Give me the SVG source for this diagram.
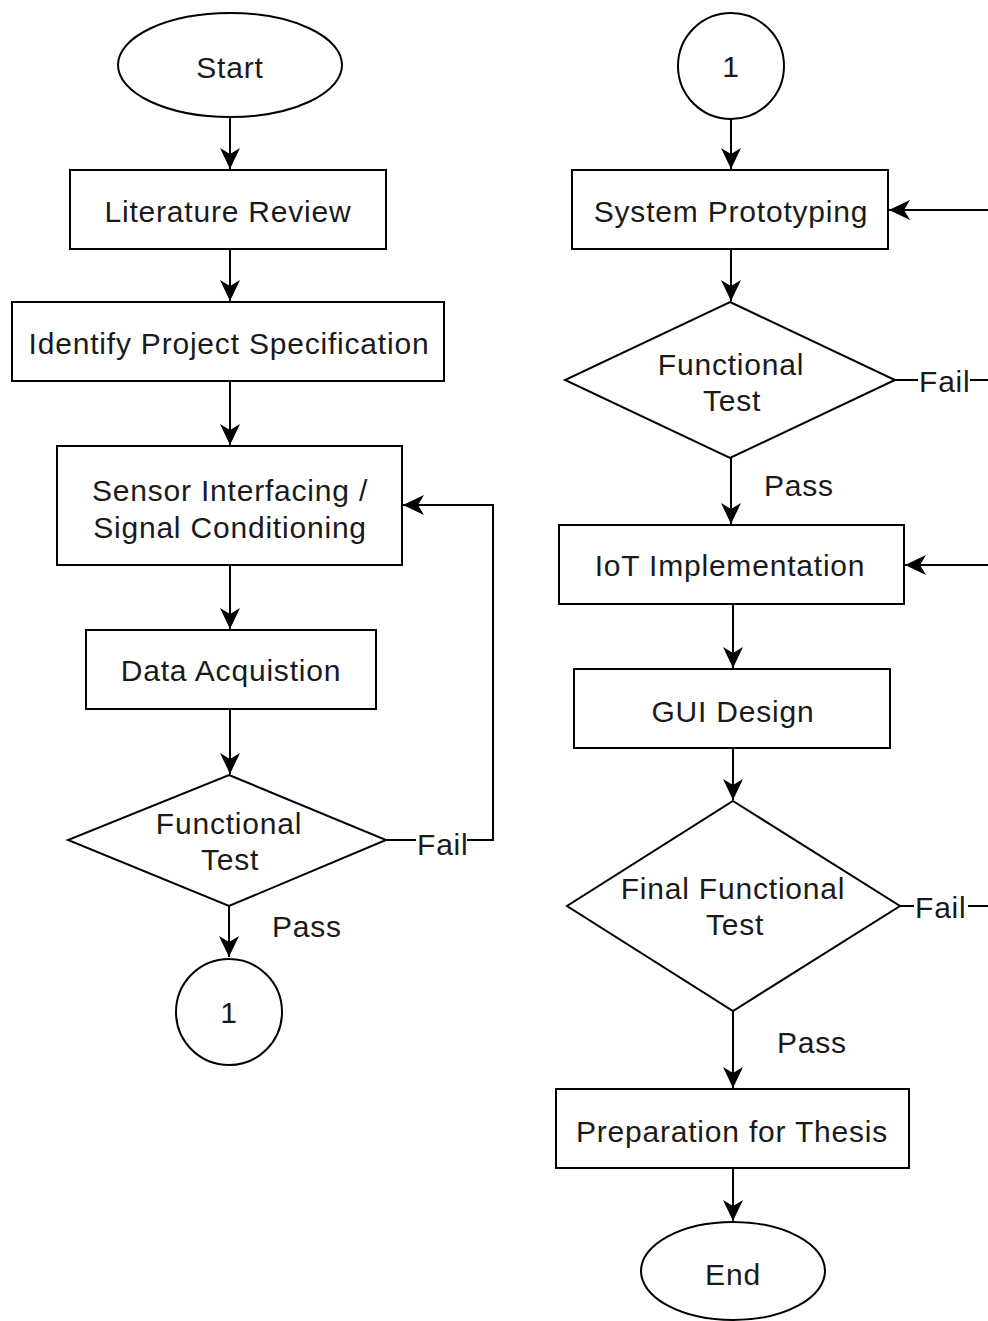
<svg xmlns="http://www.w3.org/2000/svg" width="988" height="1321" viewBox="0 0 988 1321">
<defs>
<marker id="arr" markerUnits="userSpaceOnUse" markerWidth="22" markerHeight="20" refX="21" refY="10" orient="auto" viewBox="0 0 22 20">
<path d="M0,0 L21,10 L0,20 L6,10 Z" fill="#000"/>
</marker>
<style>
.s{fill:#fff;stroke:#000;stroke-width:2}
.c{fill:none;stroke:#000;stroke-width:2}
.t{font-family:"Liberation Sans",Arial,sans-serif;font-size:30px;fill:#1a1a1a;text-anchor:middle;letter-spacing:0.8px}
.l{font-family:"Liberation Sans",Arial,sans-serif;font-size:30px;fill:#1a1a1a;letter-spacing:0.8px}
</style>
</defs>
<rect width="988" height="1321" fill="#fff"/>
<g id="connectors">
<line class="c" x1="230" y1="117" x2="230" y2="169" marker-end="url(#arr)"/>
<line class="c" x1="230" y1="249" x2="230" y2="301" marker-end="url(#arr)"/>
<line class="c" x1="230" y1="381" x2="230" y2="445" marker-end="url(#arr)"/>
<line class="c" x1="230" y1="565" x2="230" y2="629" marker-end="url(#arr)"/>
<line class="c" x1="230" y1="709" x2="230" y2="774" marker-end="url(#arr)"/>
<line class="c" x1="229" y1="906" x2="229" y2="957" marker-end="url(#arr)"/>
<line class="c" x1="386" y1="840" x2="416" y2="840"/>
<polyline class="c" points="467,840 493,840 493,505 403,505" marker-end="url(#arr)"/>
<text class="l" x="417" y="855">Fail</text>
<text class="l" x="272" y="937">Pass</text>

<line class="c" x1="731" y1="119" x2="731" y2="169" marker-end="url(#arr)"/>
<line class="c" x1="988" y1="210" x2="889" y2="210" marker-end="url(#arr)"/>
<line class="c" x1="731" y1="249" x2="731" y2="301" marker-end="url(#arr)"/>
<line class="c" x1="895" y1="380" x2="918" y2="380"/>
<line class="c" x1="970" y1="380" x2="988" y2="380"/>
<text class="l" x="919" y="392">Fail</text>
<line class="c" x1="731" y1="458" x2="731" y2="524" marker-end="url(#arr)"/>
<text class="l" x="764" y="496">Pass</text>
<line class="c" x1="988" y1="565" x2="905" y2="565" marker-end="url(#arr)"/>
<line class="c" x1="733" y1="604" x2="733" y2="668" marker-end="url(#arr)"/>
<line class="c" x1="733" y1="748" x2="733" y2="800" marker-end="url(#arr)"/>
<line class="c" x1="900" y1="906" x2="914" y2="906"/>
<line class="c" x1="968" y1="906" x2="988" y2="906"/>
<text class="l" x="915" y="918">Fail</text>
<line class="c" x1="733" y1="1011" x2="733" y2="1088" marker-end="url(#arr)"/>
<text class="l" x="777" y="1053">Pass</text>
<line class="c" x1="733" y1="1168" x2="733" y2="1221" marker-end="url(#arr)"/>
</g>

<g id="start"><ellipse class="s" cx="230" cy="65" rx="112" ry="52"/><text class="t" x="230" y="78">Start</text></g>
<g id="literature"><rect class="s" x="70" y="170" width="316" height="79"/><text class="t" x="228" y="222">Literature Review</text></g>
<g id="identify"><rect class="s" x="12" y="302" width="432" height="79"/><text class="t" x="229" y="354">Identify Project Specification</text></g>
<g id="sensor"><rect class="s" x="57" y="446" width="345" height="119"/><text class="t" x="230" y="501">Sensor Interfacing /</text><text class="t" x="230" y="538">Signal Conditioning</text></g>
<g id="data"><rect class="s" x="86" y="630" width="290" height="79"/><text class="t" x="231" y="681">Data Acquistion</text></g>
<g id="test1"><polygon class="s" points="229,775 386,840 229,906 68,840"/><text class="t" x="229" y="834">Functional</text><text class="t" x="230" y="870">Test</text></g>
<g id="conn1a"><circle class="s" cx="229" cy="1012" r="53"/><text class="t" x="229" y="1023">1</text></g>

<g id="conn1b"><circle class="s" cx="731" cy="66" r="53"/><text class="t" x="731" y="77">1</text></g>
<g id="prototyping"><rect class="s" x="572" y="170" width="316" height="79"/><text class="t" x="731" y="222">System Prototyping</text></g>
<g id="test2"><polygon class="s" points="730,302 895,380 730,458 565,380"/><text class="t" x="731" y="375">Functional</text><text class="t" x="732" y="411">Test</text></g>
<g id="iot"><rect class="s" x="559" y="525" width="345" height="79"/><text class="t" x="730" y="576">IoT Implementation</text></g>
<g id="gui"><rect class="s" x="574" y="669" width="316" height="79"/><text class="t" x="733" y="722">GUI Design</text></g>
<g id="test3"><polygon class="s" points="733,801 900,906 733,1011 567,906"/><text class="t" x="733" y="899">Final Functional</text><text class="t" x="735" y="935">Test</text></g>
<g id="thesis"><rect class="s" x="556" y="1089" width="353" height="79"/><text class="t" x="732" y="1142">Preparation for Thesis</text></g>
<g id="end"><ellipse class="s" cx="733" cy="1271" rx="92" ry="49"/><text class="t" x="733" y="1285">End</text></g>
</svg>
